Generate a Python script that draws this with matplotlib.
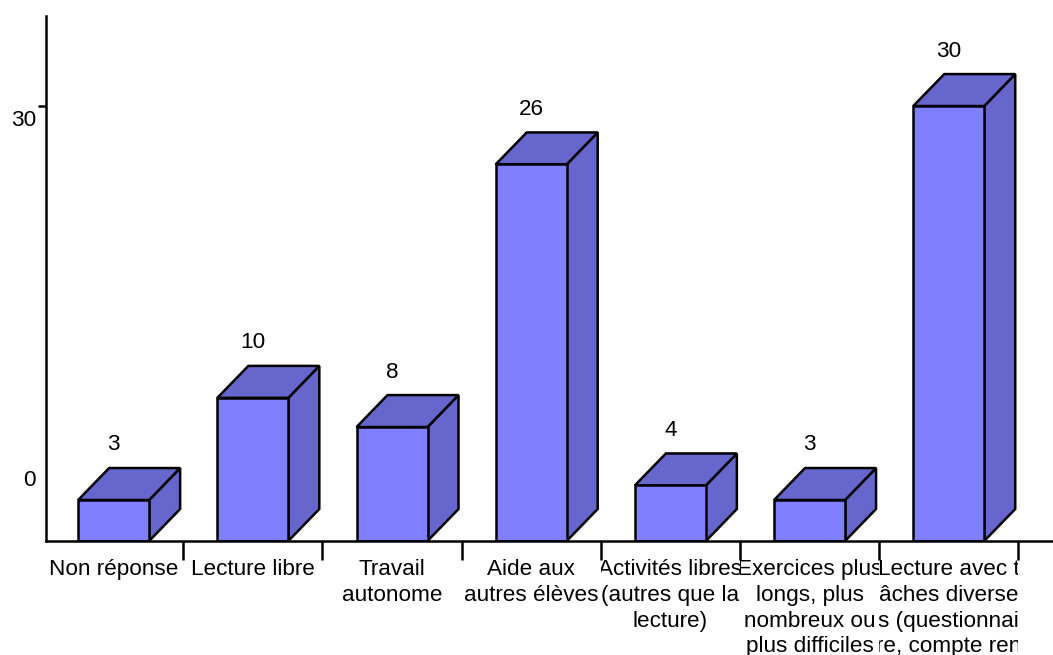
import matplotlib
matplotlib.use("Agg")
import matplotlib.pyplot as plt
from matplotlib.patches import Polygon
from matplotlib.transforms import Bbox, TransformedBbox, blended_transform_factory

plt.rcParams['font.family'] = ['Liberation Sans', 'DejaVu Sans']

categories = [
    "Non réponse",
    "Lecture libre",
    "Travail\nautonome",
    "Aide aux\nautres élèves",
    "Activités libres\n(autres que la\nlecture)",
    "Exercices plus\nlongs, plus\nnombreux ou\nplus difficiles",
    "Lecture avec t\nâches diverse\ns (questionnai\nre, compte ren",
]
values = [3, 10, 8, 26, 4, 3, 30]

FRONT = "#8080FF"
SHADE = "#6666CC"
EDGE = "black"
LW = 1.8
FONT = 16.2

W, H = 1053, 655
fig = plt.figure(figsize=(W / 100, H / 100), dpi=100)
ax = fig.add_axes([46 / W, 1 - 541 / H, (W - 46) / W, (541 - 16) / H])

ax.set_xlim(-0.486, 6.749)
ax.set_ylim(0.19, 36.17)
floor = ax.get_ylim()[0]

# Oblique extrusion of each column, in data units
bar_w = 0.51
dx = 0.2227
dy = 2.19

for i, v in enumerate(values):
    l, r = i - bar_w / 2, i + bar_w / 2
    ax.add_patch(Polygon([(r, floor), (r + dx, floor + dy), (r + dx, v + dy), (r, v)],
                         closed=True, fc=SHADE, ec=EDGE, lw=LW, joinstyle="miter", zorder=2))
    ax.add_patch(Polygon([(l, v), (l + dx, v + dy), (r + dx, v + dy), (r, v)],
                         closed=True, fc=SHADE, ec=EDGE, lw=LW, joinstyle="miter", zorder=2))

ax.bar(range(len(values)), [v - floor for v in values], bottom=floor, width=bar_w,
       color=FRONT, edgecolor=EDGE, linewidth=LW, zorder=3)

for i, v in enumerate(values):
    ax.annotate(str(v), xy=(i, v), xytext=(0, 55), textcoords="offset pixels",
                ha="center", va="center", fontsize=FONT, color="black", zorder=4)

for side in ("top", "right"):
    ax.spines[side].set_visible(False)
for side in ("left", "bottom"):
    ax.spines[side].set_linewidth(LW)
    ax.spines[side].set_zorder(5)

# Value axis: the tick labels sit away from their tick positions
ax.set_yticks([30])
ax.set_yticklabels([""])
ax.tick_params(axis="y", length=5.5, width=LW)
ytrans = blended_transform_factory(ax.transAxes, ax.transData)
for value, offset in ((0, 63), (30, -14)):
    ax.annotate(str(value), xy=(0, value), xycoords=ytrans, xytext=(-10, offset),
                textcoords="offset pixels", ha="right", va="center",
                fontsize=FONT, annotation_clip=False)

# Category axis: marks between the columns, labels centred under them
ax.set_xticks(range(len(categories)))
ax.set_xticklabels(categories, fontsize=FONT, linespacing=1.3)
ax.set_xticks([i + 0.5 for i in range(len(categories))], minor=True)
ax.tick_params(axis="x", which="major", length=0, pad=13)
ax.tick_params(axis="x", which="minor", length=13.7, width=LW)

# Each label is cut off at the edges of its own slot
slot_trans = blended_transform_factory(ax.transData, fig.transFigure)
for i, label in enumerate(ax.get_xticklabels()):
    label.set_clip_on(True)
    label.set_clip_box(TransformedBbox(Bbox([[i - 0.5, 0], [i + 0.5, 1]]), slot_trans))

fig.savefig("out.png", dpi=100, facecolor="white")
